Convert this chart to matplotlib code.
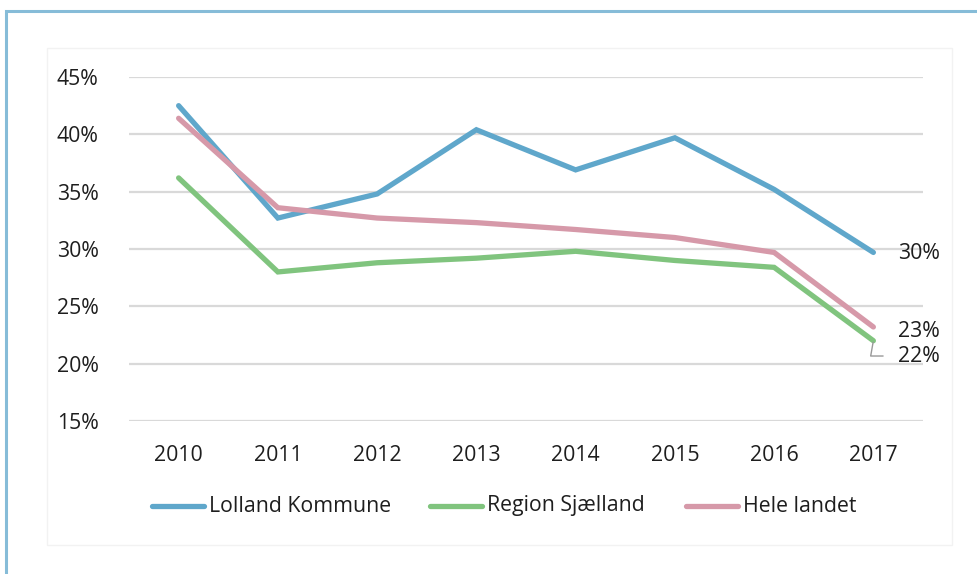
import matplotlib
matplotlib.use("Agg")
import matplotlib.pyplot as plt
from matplotlib.patches import Rectangle
from matplotlib.lines import Line2D

plt.rcParams['font.family'] = ['Open Sans', 'DejaVu Sans']

years = [2010, 2011, 2012, 2013, 2014, 2015, 2016, 2017]
lolland = [42.5, 32.7, 34.8, 40.4, 36.9, 39.7, 35.2, 29.7]
region = [36.2, 28.0, 28.8, 29.2, 29.8, 29.0, 28.4, 22.0]
hele = [41.4, 33.6, 32.7, 32.3, 31.7, 31.0, 29.7, 23.2]
series_names = ["Lolland Kommune", "Region Sjælland", "Hele landet"]
end_labels = ["30%", "22%", "23%"]
yticks = [15, 20, 25, 30, 35, 40, 45]

colors = ["#5fa7cb", "#80c47e", "#d699a9"]
FS = 15.3
TXT = "#1e1e1e"

W, H = 978, 574
fig = plt.figure(figsize=(W/100, H/100), dpi=100)
fig.patch.set_facecolor("white")

# outer blue frame
fig.add_artist(Rectangle((6/W, -0.05), 1.2, 1 - 11/H + 0.05, transform=fig.transFigure,
                         fill=False, edgecolor="#86bcd8", lw=2.2))
# inner faint panel
fig.add_artist(Rectangle((47/W, 1 - 545/H), (952-47)/W, (545-48)/H, transform=fig.transFigure,
                         fill=False, edgecolor="#f2f2f2", lw=1))

ax = fig.add_axes([129/W, 1 - 421/H, 794/W, 344/H])
ax.set_xlim(2009.5, 2017.5)
ax.set_ylim(15, 45)
ax.set_yticks(yticks)
ax.set_yticklabels([f"{t}%" for t in yticks])
ax.set_xticks(years)
ax.set_xticklabels([str(y) for y in years])
for s in ax.spines.values():
    s.set_visible(False)
ax.tick_params(length=0, labelsize=FS, colors=TXT)
ax.tick_params(axis='y', pad=22)
ax.tick_params(axis='x', pad=17)
ax.grid(axis='y', color="#d9d9d9", lw=1.6)
ax.set_axisbelow(True)

data = [lolland, region, hele]
for vals, c, name in zip(data, colors, series_names):
    ax.plot(years, vals, color=c, lw=3.8, solid_capstyle='round', solid_joinstyle='miter', label=name)

# end labels
ax.annotate(end_labels[0], (years[-1], lolland[-1]), xytext=(18, -1), textcoords='offset points',
            va='center', ha='left', fontsize=FS, color=TXT)
ax.annotate(end_labels[2], (years[-1], hele[-1]), xytext=(18, -3), textcoords='offset points',
            va='center', ha='left', fontsize=FS, color=TXT)
ax.annotate(end_labels[1], (years[-1], region[-1]), xytext=(18, -11), textcoords='offset points',
            va='center', ha='left', fontsize=FS, color=TXT,
            arrowprops=dict(arrowstyle='-', color="#999999", lw=1,
                            connectionstyle="angle,angleA=0,angleB=80,rad=0",
                            shrinkA=9, shrinkB=1))

# legend
leg_x = [152, 430, 686]
for x0, c, name in zip(leg_x, colors, series_names):
    fig.add_artist(Line2D([x0/W, (x0+52)/W], [1-506/H, 1-506/H], transform=fig.transFigure,
                          color=c, lw=3.8, solid_capstyle='round'))
    fig.text((x0+57)/W, 1-506/H, name, fontsize=FS, va='center', ha='left', color=TXT)

fig.savefig("out.png", dpi=100)
